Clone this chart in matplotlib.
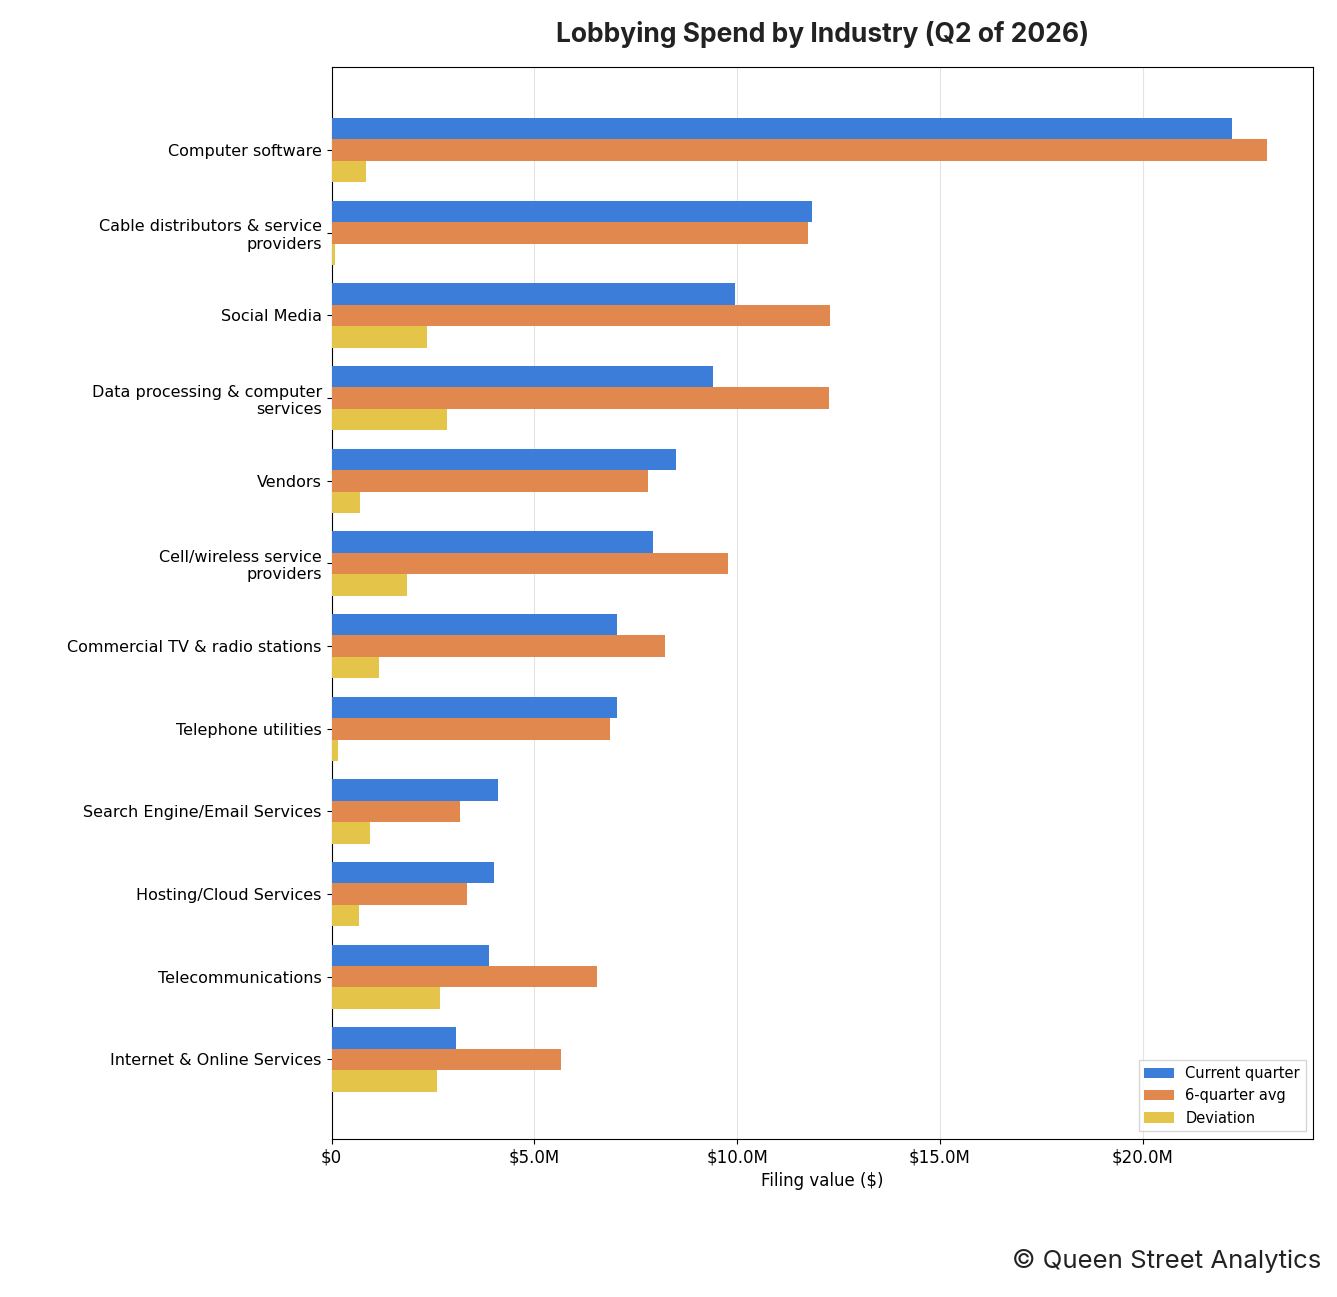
import matplotlib
matplotlib.use("Agg")
import matplotlib.pyplot as plt
import numpy as np
from matplotlib.ticker import FuncFormatter

categories = ["Computer software", "Cable distributors & service\nproviders", "Social Media",
              "Data processing & computer\nservices", "Vendors", "Cell/wireless service\nproviders",
              "Commercial TV & radio stations", "Telephone utilities", "Search Engine/Email Services",
              "Hosting/Cloud Services", "Telecommunications", "Internet & Online Services"]
current = [22.2, 11.85, 9.95, 9.4, 8.49, 7.93, 7.04, 7.04, 4.1, 4.0, 3.88, 3.06]
avg6 = [23.06, 11.75, 12.3, 12.27, 7.8, 9.78, 8.22, 6.86, 3.16, 3.33, 6.54, 5.65]
deviation = [0.86, 0.08, 2.35, 2.84, 0.69, 1.85, 1.18, 0.17, 0.94, 0.67, 2.67, 2.59]

plt.rcParams['font.family'] = ['DejaVu Sans']
fig = plt.figure(figsize=(13.37, 12.97), dpi=100)
ax = fig.add_axes([0.248, 0.122, 0.734, 0.826])
y = np.arange(len(categories))
h = 0.26
ax.barh(y - h, current, h, color="#3b7dd8", label="Current quarter", zorder=3)
ax.barh(y, avg6, h, color="#e0884e", label="6-quarter avg", zorder=3)
ax.barh(y + h, deviation, h, color="#e5c44a", label="Deviation", zorder=3)
ax.set_yticks(y)
ax.set_yticklabels(categories, fontsize=11.5)
ax.set_ylim(len(categories) - 0.04, -1)
ax.set_xlim(0, 24.2)
ax.set_xticks([0, 5, 10, 15, 20])
ax.xaxis.set_major_formatter(FuncFormatter(lambda v, p: "$0" if v == 0 else f"${v:.1f}M"))
ax.tick_params(axis="x", labelsize=12)
ax.grid(axis="x", color="#e3e3e3", zorder=0)
ax.set_xlabel("Filing value ($)", fontsize=12)
ax.set_title("Lobbying Spend by Industry (Q2 of 2026)", fontsize=19, fontweight="bold",
             family="Inter", pad=18, color="#222222")
ax.legend(loc="lower right", fontsize=10.5, fancybox=False, edgecolor="#cccccc")
fig.text(0.988, 0.022, "© Queen Street Analytics", ha="right", fontsize=18.5, family="Inter", color="#222222")
fig.savefig("out.png", dpi=100)
